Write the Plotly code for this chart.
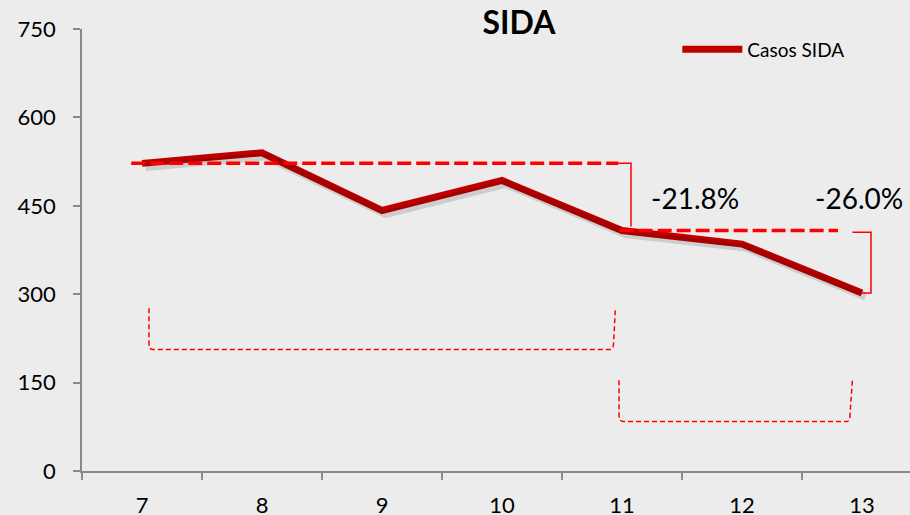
import plotly.graph_objects as go

categories = ["7", "8", "9", "10", "11", "12", "13"]
casos_sida = [522, 540, 442, 493, 408, 385, 302]
series_name = "Casos SIDA"
title_text = "SIDA"
y_ticks = [0, 150, 300, 450, 600, 750]

FONT = "Lato, 'Open Sans', sans-serif"
RED = "#ff0000"
DARK_RED = "#c00000"

pct_1 = (casos_sida[4] / casos_sida[0] - 1) * 100
pct_2 = (casos_sida[6] / casos_sida[4] - 1) * 100

fig = go.Figure()

# soft shadow under the main line
fig.add_trace(go.Scatter(
    x=[i + 0.03 for i in range(len(categories))],
    y=[v - 6 for v in casos_sida],
    mode="lines", line=dict(color="rgba(0,0,0,0.13)", width=8),
    hoverinfo="skip", showlegend=False, xaxis="x2",
))

fig.add_trace(go.Scatter(
    x=categories, y=casos_sida, mode="lines", name=series_name,
    line=dict(color=DARK_RED, width=7),
))

THICK_DASH = "14px,5px"
THIN_DASH = "5px,3px"

shapes = []
# thick dashed reference lines
shapes.append(dict(type="line", xref="x2", yref="y", x0=-0.09, x1=3.97,
                   y0=casos_sida[0], y1=casos_sida[0],
                   line=dict(color=RED, width=3.5, dash=THICK_DASH)))
shapes.append(dict(type="line", xref="x2", yref="y", x0=3.98, x1=5.8,
                   y0=casos_sida[4], y1=casos_sida[4],
                   line=dict(color=RED, width=3.5, dash=THICK_DASH)))
# thin solid brackets
shapes.append(dict(type="path", xref="x2", yref="y",
                   path=f"M 3.97 {casos_sida[0]} L 4.075 {casos_sida[0]} L 4.075 {casos_sida[4] + 7}",
                   line=dict(color=RED, width=1.5)))
shapes.append(dict(type="path", xref="x2", yref="y",
                   path=f"M 5.92 {casos_sida[4] - 3} L 6.075 {casos_sida[4] - 3} L 6.075 {casos_sida[6]} L 6.0 {casos_sida[6]}",
                   line=dict(color=RED, width=1.5)))
# thin dashed brackets at the bottom
shapes.append(dict(type="path", xref="x2", yref="y",
                   path="M 0.058 276 L 0.058 218 Q 0.058 206 0.09 206 L 3.9 206 Q 3.93 206 3.93 218 L 3.945 277",
                   line=dict(color=RED, width=1.5, dash=THIN_DASH)))
shapes.append(dict(type="path", xref="x2", yref="y",
                   path="M 3.975 154 L 3.975 96 Q 3.975 84 4.01 84 L 5.875 84 Q 5.9 84 5.9 96 L 5.92 154",
                   line=dict(color=RED, width=1.5, dash=THIN_DASH)))

annotations = [
    dict(x=4.61, y=463, xref="x2", yref="y", text=f"{pct_1:.1f}%", showarrow=False,
         font=dict(family=FONT, size=28, color="#000000")),
    dict(x=5.975, y=463, xref="x2", yref="y", text=f"{pct_2:.1f}%", showarrow=False,
         font=dict(family=FONT, size=28, color="#000000")),
]

XR = [-0.5, -0.5 + 828 / 120]

fig.update_layout(
    width=910, height=515,
    margin=dict(l=82, r=0, t=28.5, b=44.3),
    paper_bgcolor="#ececec", plot_bgcolor="#ececec",
    font=dict(family=FONT, color="#000000"),
    title=dict(text=f"<b>{title_text}</b>", x=519 / 910, xanchor="center",
               y=1 - 23 / 515, yanchor="middle",
               font=dict(family=FONT, size=32, color="#000000")),
    showlegend=True,
    legend=dict(x=0.719, y=(470.7 - 49) / 442.2, xanchor="left", yanchor="middle",
                bgcolor="rgba(0,0,0,0)", itemwidth=60,
                font=dict(family=FONT, size=19, color="#000000")),
    xaxis=dict(type="category", categoryorder="array", categoryarray=categories,
               range=XR, showgrid=False, zeroline=False, automargin=False,
               showline=True, linecolor="#898989", linewidth=1.5,
               ticks="outside", ticklen=7, tickcolor="#898989", tickwidth=1.5,
               tickson="boundaries", ticklabelstandoff=14,
               tickfont=dict(family=FONT, size=22, color="#000000")),
    xaxis2=dict(overlaying="x", range=XR, visible=False),
    yaxis=dict(range=[0, 750], tickvals=y_ticks, showgrid=False, zeroline=False,
               automargin=False,
               showline=True, linecolor="#898989", linewidth=1.5,
               ticks="outside", ticklen=7, tickcolor="#898989", tickwidth=1.5,
               ticklabelstandoff=13,
               tickfont=dict(family=FONT, size=22, color="#000000")),
    shapes=shapes, annotations=annotations,
)

fig.write_html("out.html", config={"displayModeBar": False},
               post_script="document.body.style.margin='0';document.body.style.overflow='hidden';")
